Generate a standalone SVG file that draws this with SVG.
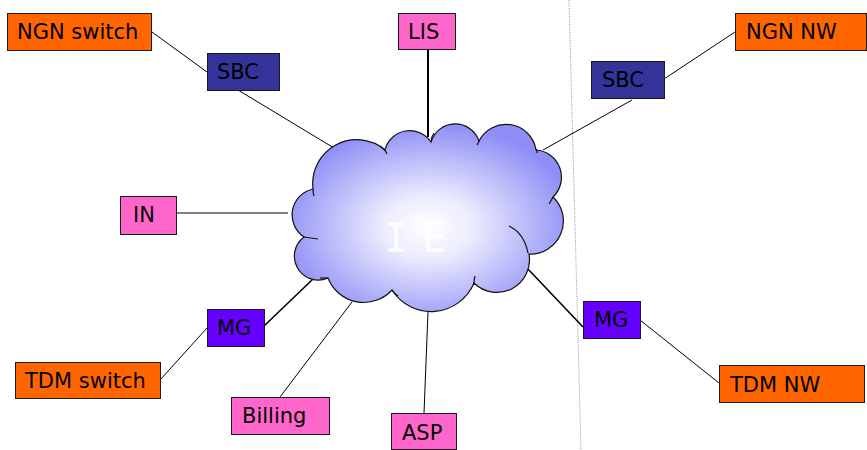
<svg xmlns="http://www.w3.org/2000/svg" width="867" height="450" viewBox="0 0 867 450">
<style>
.box{stroke:#1a1a1a;stroke-width:1}
.orange{fill:#ff6600}.navy{fill:#333399}.pink{fill:#ff66cc}.purple{fill:#6600ff}
.lbl{font-family:"DejaVu Sans",Verdana,sans-serif;font-size:21px;fill:#000}
.ln{stroke:#000;stroke-width:1;fill:none}
.thick{stroke-width:1.6}
.lis{stroke-width:2}
.stub{stroke:#111;stroke-width:1.2;fill:none}
</style>
<defs>
<radialGradient id="cg" cx="0.5" cy="0.55" r="0.55">
<stop offset="0" stop-color="#ffffff"/>
<stop offset="0.3" stop-color="#ececff"/>
<stop offset="1" stop-color="#8e8ef6"/>
</radialGradient>
</defs>
<rect width="867" height="450" fill="#fff"/>
<line x1="569" y1="0" x2="581" y2="450" stroke="#a0a0a0" stroke-width="1" stroke-dasharray="1,1"/>
<g id="connectors">
<line class="ln" x1="152" y1="32" x2="207" y2="72"/>
<line class="ln" x1="238" y1="90" x2="334" y2="148"/>
<line class="ln lis" x1="428" y1="49" x2="428" y2="137"/>
<line class="ln" x1="735" y1="32" x2="664" y2="79"/>
<line class="ln" x1="632" y1="100" x2="543" y2="150"/>
<line class="ln" x1="176" y1="213" x2="288" y2="213"/>
<line class="ln thick" x1="264" y1="326" x2="313" y2="279"/>
<line class="ln" x1="160" y1="380" x2="207" y2="328"/>
<line class="ln" x1="280" y1="397" x2="352" y2="302"/>
<line class="ln" x1="424" y1="413" x2="428" y2="312"/>
<line class="ln thick" x1="583" y1="327" x2="527" y2="268"/>
<line class="ln" x1="640" y1="320" x2="719" y2="383"/>
</g>
<g id="cloud">
<path d="M304,237 A26.5,26.5 0 0 1 313,189 A44,44 0 0 1 385,150 A25.5,25.5 0 0 1 431,142 A25.2,25.2 0 0 1 479,141 A30.3,30.3 0 0 1 536,150 A27.3,27.3 0 0 1 553,197 A33,33 0 0 1 529,254 A32.6,32.6 0 0 1 474,283 A46.4,46.4 0 0 1 392,290 A38.3,38.3 0 0 1 328,278 A23.9,23.9 0 0 1 304,237 Z" fill="url(#cg)" stroke="#111" stroke-width="1.2"/>
<path class="stub" d="M380,146 Q385,149 387,154"/>
<path class="stub" d="M431,142 Q431,137 434,133"/>
<path class="stub" d="M479,141 Q478,144 477,145"/>
<path class="stub" d="M536,150 Q537,148 537,153"/>
<path class="stub" d="M553,197 Q551,201 549,204"/>
<path class="stub" d="M509,226 Q524,233 528,253"/>
<path class="stub" d="M474,283 Q474,279 475,276"/>
<path class="stub" d="M392,290 Q394,293 398,296"/>
<path class="stub" d="M328,278 Q324,278 320,278"/>
<path class="stub" d="M304,237 Q311,238 318,239"/>
<path class="stub" d="M313,189 Q313,193 314,196"/>
<text x="384" y="252" font-family="'DejaVu Sans Mono',monospace" font-size="40" fill="#fff" fill-opacity="0.9" letter-spacing="-5">I E</text>
</g>
<g id="ngn-switch"><rect class="box orange" x="7.5" y="13.5" width="144" height="37"/><text class="lbl" x="17" y="39">NGN switch</text></g>
<g id="sbc-left"><rect class="box navy" x="207.5" y="53.5" width="72" height="37"/><text class="lbl" x="217" y="79">SBC</text></g>
<g id="lis"><rect class="box pink" x="398.5" y="13.5" width="57" height="36"/><text class="lbl" x="408" y="39">LIS</text></g>
<g id="ngn-nw"><rect class="box orange" x="735.5" y="13.5" width="131" height="37"/><text class="lbl" x="746" y="39">NGN NW</text></g>
<g id="sbc-right"><rect class="box navy" x="591.5" y="61.5" width="73" height="37"/><text class="lbl" x="602" y="87">SBC</text></g>
<g id="in"><rect class="box pink" x="120.5" y="196.5" width="56" height="38"/><text class="lbl" x="133" y="222">IN</text></g>
<g id="mg-left"><rect class="box purple" x="207.5" y="309.5" width="57" height="37"/><text class="lbl" x="217" y="335">MG</text></g>
<g id="tdm-switch"><rect class="box orange" x="15.5" y="362.5" width="145" height="36"/><text class="lbl" x="25" y="388">TDM switch</text></g>
<g id="billing"><rect class="box pink" x="231.5" y="397.5" width="98" height="37"/><text class="lbl" x="242" y="423">Billing</text></g>
<g id="asp"><rect class="box pink" x="391.5" y="413.5" width="65" height="36"/><text class="lbl" x="402" y="440">ASP</text></g>
<g id="mg-right"><rect class="box purple" x="583.5" y="301.5" width="57" height="37"/><text class="lbl" x="594" y="327">MG</text></g>
<g id="tdm-nw"><rect class="box orange" x="719.5" y="365.5" width="145" height="37"/><text class="lbl" x="730" y="392">TDM NW</text></g>
</svg>
